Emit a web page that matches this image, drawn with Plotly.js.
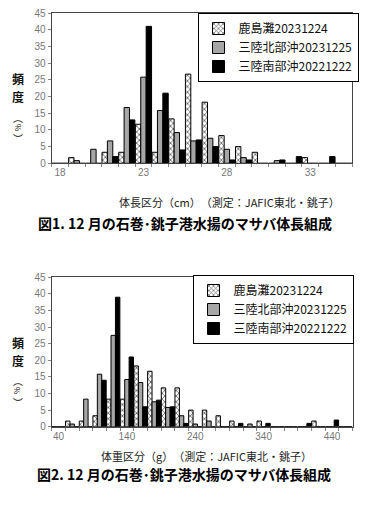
<!DOCTYPE html>
<html>
<head>
<meta charset="utf-8">
<script src="https://cdn.plot.ly/plotly-3.0.1.min.js"></script>
<style>
html,body{margin:0;padding:0;background:#fff;}
#chart{width:369px;height:506px;}
</style>
</head>
<body>
<div id="chart"></div>
<script>
// ---- Data ----
const seriesNames = ['鹿島灘20231224', '三陸北部沖20231225', '三陸南部沖20221222'];

// Figure 1: body length classes (cm)
const lengthCats = [18, 19, 20, 21, 22, 23, 24, 25, 26, 27, 28, 29, 30, 31, 32, 33, 34, 35];
const lenKashimanada = [0, 1.7, 0, 3.3, 3.3, 11.7, 3.3, 13.3, 26.7, 18.3, 8.3, 5.0, 3.3, 0, 0, 1.7, 0, 0];
const lenSanrikuNorth = [0, 0.8, 4.2, 6.7, 16.7, 25.8, 15.8, 9.2, 6.7, 7.5, 4.2, 1.7, 0, 0.8, 0, 0, 0, 0];
const lenSanrikuSouth = [0, 0, 0, 2, 13, 41, 21, 4, 7, 5, 1, 1, 0, 1, 2, 0, 2, 0];
const lengthTicks = [18, 23, 28, 33];

// Figure 2: body weight classes (g)
const weightCats = [40, 60, 80, 100, 120, 140, 160, 180, 200, 220, 240, 260, 280, 300, 320, 340, 360, 380, 400, 420, 440, 460];
const wtKashimanada = [0, 1.7, 1.7, 3.3, 8.3, 8.3, 18.3, 16.7, 11.7, 11.7, 5.0, 5.0, 3.3, 1.7, 0, 1.7, 0, 0, 0, 1.7, 0, 0];
const wtSanrikuNorth = [0, 0.8, 8.3, 15.8, 27.5, 14.2, 13.3, 7.5, 5.8, 3.3, 0.8, 1.7, 0, 0, 0.8, 0, 0, 0, 0, 0, 0, 0];
const wtSanrikuSouth = [0, 0, 0, 14, 39, 21, 6, 8, 6, 1, 0, 0, 0, 1, 0, 1, 0, 0, 1, 0, 2, 0];
const weightTicks = [40, 140, 240, 340, 440];
const yTicks = [0, 5, 10, 15, 20, 25, 30, 35, 40, 45];

// ---- Styles ----
const W = 369, H = 506;
const px = v => v / W;
const py = v => 1 - v / H;
const FONT_JP = '"Noto Sans CJK JP", "Noto Sans", sans-serif';
const FONT_TICK = '"Liberation Sans", Arial, sans-serif';

const styles = [
  {marker: {color: '#ffffff', line: {color: '#000', width: 1},
            pattern: {shape: 'x', fgcolor: '#555', bgcolor: '#ffffff', size: 4, solidity: 0.35}}},
  {marker: {color: '#a6a6a6', line: {color: '#000', width: 1}}},
  {marker: {color: '#000000', line: {color: '#000', width: 1}}}
];

function mk(x, y, i, xa, ya, leg) {
  return Object.assign({
    type: 'bar', x: x, y: y, name: seriesNames[i],
    xaxis: xa, yaxis: ya, legend: leg, legendgroup: leg + i,
    hoverinfo: 'skip'
  }, JSON.parse(JSON.stringify(styles[i])));
}

const data = [
  mk(lengthCats, lenKashimanada, 0, 'x', 'y', 'legend'),
  mk(lengthCats, lenSanrikuNorth, 1, 'x', 'y', 'legend'),
  mk(lengthCats, lenSanrikuSouth, 2, 'x', 'y', 'legend'),
  mk(weightCats, wtKashimanada, 0, 'x2', 'y2', 'legend2'),
  mk(weightCats, wtSanrikuNorth, 1, 'x2', 'y2', 'legend2'),
  mk(weightCats, wtSanrikuSouth, 2, 'x2', 'y2', 'legend2')
];

function xAxis(domain, range, tickvals, tick0, dtick, anchor) {
  return {
    domain: domain, range: range, anchor: anchor,
    tickvals: tickvals, ticks: '', ticklen: 0,
    showline: true, linecolor: '#444', linewidth: 1, mirror: true,
    showgrid: false, zeroline: false, fixedrange: true,
    tickfont: {family: FONT_TICK, size: 10, color: '#777'},
    minor: {tick0: tick0, dtick: dtick, ticks: 'outside', ticklen: 3, tickcolor: '#888', showgrid: false}
  };
}
function yAxis(domain, anchor) {
  return {
    domain: domain, range: [0, 45], anchor: anchor,
    tickvals: yTicks, ticks: 'outside', ticklen: 3, tickcolor: '#888',
    showline: true, linecolor: '#444', linewidth: 1, mirror: true,
    showgrid: false, zeroline: false, fixedrange: true,
    tickfont: {family: FONT_TICK, size: 10, color: '#777'}
  };
}

function vChar(text, y, size, angle, bold) {
  return {xref: 'paper', yref: 'paper', x: px(18), y: py(y),
    text: bold ? '<b>' + text + '</b>' : text, showarrow: false, textangle: angle || 0,
    borderpad: 0,
    font: {family: FONT_JP, size: size, color: '#111'}, xanchor: 'center', yanchor: 'middle'};
}

const layout = {
  width: W, height: H,
  margin: {l: 0, r: 0, t: 0, b: 0},
  paper_bgcolor: '#fff', plot_bgcolor: '#fff',
  barmode: 'group', bargap: 0.03, bargroupgap: 0,
  font: {family: FONT_JP},
  xaxis: xAxis([px(51.7), px(352)], [17.5, 35.5], lengthTicks, 17.5, 1, 'y'),
  yaxis: yAxis([py(163.3), py(13)], 'x'),
  xaxis2: xAxis([px(51.7), px(352.5)], [30, 470], weightTicks, 30, 20, 'y2'),
  yaxis2: yAxis([py(426.7), py(277.3)], 'x2'),
  legend: {
    x: px(197.5), y: py(13), xanchor: 'left', yanchor: 'top',
    bgcolor: '#fff', bordercolor: '#000', borderwidth: 1,
    font: {family: FONT_JP, size: 12, color: '#111'},
    tracegroupgap: 0, itemwidth: 30, traceorder: 'normal'
  },
  legend2: {
    x: px(192.5), y: py(275), xanchor: 'left', yanchor: 'top',
    bgcolor: '#fff', bordercolor: '#000', borderwidth: 1,
    font: {family: FONT_JP, size: 12, color: '#111'},
    tracegroupgap: 1, itemwidth: 30, traceorder: 'normal'
  },
  showlegend: true,
  annotations: [
    // y-axis titles (vertical), chart 1
    vChar('頻', 78, 12, 0, true),
    vChar('度', 96, 12, 0, true),
    vChar('︵', 117, 10, 0, false),
    vChar('%', 128, 8, 90, false),
    vChar('︶', 139, 10, 0, false),
    // chart 2
    vChar('頻', 342, 12, 0, true),
    vChar('度', 360, 12, 0, true),
    vChar('︵', 380, 10, 0, false),
    vChar('%', 391, 8, 90, false),
    vChar('︶', 402, 10, 0, false),
    // x-axis titles
    {xref: 'paper', yref: 'paper', x: px(230), y: py(202), text: '体長区分（cm）　（測定：JAFIC東北・銚子）', showarrow: false,
     font: {family: FONT_JP, size: 11, color: '#222'}, xanchor: 'center', yanchor: 'middle'},
    {xref: 'paper', yref: 'paper', x: px(206), y: py(456), text: '体重区分（g）　（測定：JAFIC東北・銚子）', showarrow: false,
     font: {family: FONT_JP, size: 11, color: '#222'}, xanchor: 'center', yanchor: 'middle'},
    // figure captions
    {xref: 'paper', yref: 'paper', x: px(185), y: py(223), text: '<b>図1. 12 月の石巻･銚子港水揚のマサバ体長組成</b>', showarrow: false,
     font: {family: FONT_JP, size: 14, color: '#000'}, xanchor: 'center', yanchor: 'middle'},
    {xref: 'paper', yref: 'paper', x: px(184), y: py(474), text: '<b>図2. 12 月の石巻･銚子港水揚のマサバ体長組成</b>', showarrow: false,
     font: {family: FONT_JP, size: 14, color: '#000'}, xanchor: 'center', yanchor: 'middle'}
  ]
};

Plotly.newPlot('chart', data, layout, {staticPlot: true, displayModeBar: false});
</script>
</body>
</html>
